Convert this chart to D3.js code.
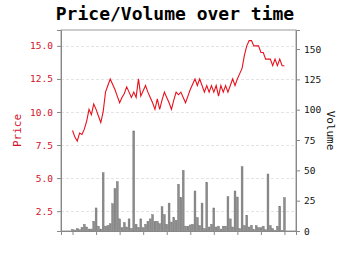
<!DOCTYPE html>
<html>
<head>
<meta charset="utf-8">
<script src="https://cdn.jsdelivr.net/npm/d3@7"></script>
<style>
  body { margin: 0; background: #fff; }
  svg { display: block; font-family: "DejaVu Sans Mono", monospace; }
</style>
</head>
<body>
<svg id="chart"></svg>
<script>
var price = [8.6, 8.1, 7.8, 8.4, 8.3, 8.7, 9.3, 10.2, 9.8, 10.6,
  10.2, 9.7, 9.2, 10.0, 11.5, 12.0, 12.5, 12.1, 11.7, 11.2,
  10.7, 11.1, 11.4, 11.9, 11.5, 11.1, 11.5, 11.1, 12.5, 11.2,
  11.6, 12.0, 11.5, 11.1, 10.7, 10.2, 11.0, 10.2, 10.9, 11.5,
  11.1, 10.7, 10.2, 10.9, 11.5, 11.3, 11.5, 11.1, 10.7, 11.2,
  11.7, 12.1, 12.5, 12.0, 12.5, 12.0, 11.5, 12.0, 11.5, 12.0,
  11.5, 12.0, 11.2, 12.0, 11.5, 12.0, 11.5, 12.0, 12.5, 12.0,
  12.5, 12.9, 13.3, 14.3, 15.0, 15.4, 15.4, 15.0, 15.0, 15.0,
  14.5, 14.5, 14.0, 14.0, 14.0, 13.5, 14.0, 13.5, 14.0, 13.5, 13.5];

var volume = [1.4, 0.8, 2, 1, 3, 5.5, 3.3, 1.6, 1.6, 8,
  19, 4, 1.6, 48, 4, 4.4, 6, 22.5, 35, 40.7,
  10, 2.7, 7, 3.3, 10, 2, 82.5, 5.5, 3, 10,
  2.7, 5.5, 8, 10, 13.5, 8, 8, 6, 20, 13.5,
  5.5, 23, 7.4, 11, 8.8, 38.5, 27.5, 50, 4, 4,
  5, 5.5, 33, 11, 4.4, 23, 2, 40, 3.3, 5.5,
  19, 3.3, 4, 1.6, 4, 4, 28.3, 10, 3.3, 33,
  28, 2, 53, 4.4, 13, 3.3, 4.7, 1, 4.4, 2.7,
  2.7, 4, 1, 47, 4.4, 2, 0.3, 4, 20.4, 0.5, 27.5];

var days = d3.range(price.length);
var dayTicks = [0, 10, 20, 30, 40, 50, 60, 70, 80, 90];
var priceTicks = [2.5, 5.0, 7.5, 10.0, 12.5, 15.0];
var volumeTicks = [0, 25, 50, 75, 100, 125, 150];

var margin = {top: 30, right: 54, bottom: 24, left: 61};
var width = 350 - margin.left - margin.right;
var height = 255 - margin.top - margin.bottom;

var x = d3.scaleLinear().domain([-4.9, 94.9]).range([0, width]);
var yPrice = d3.scaleLinear().domain([1.0, 16.2]).range([height, 0]);
var yVol = d3.scaleLinear().domain([0, 165.7]).range([height, 0]);

var svg = d3.select("#chart")
  .attr("width", 350)
  .attr("height", 255);

svg.append("text")
  .attr("x", 175)
  .attr("y", 20)
  .attr("text-anchor", "middle")
  .style("font-size", "18px")
  .style("font-weight", "bold")
  .text("Price/Volume over time");

var chart = svg.append("g")
  .attr("transform", "translate(" + margin.left + "," + margin.top + ")");

// grid on the price ticks
chart.selectAll(".grid")
  .data(priceTicks)
  .enter().append("line")
  .attr("class", "grid")
  .attr("x1", 0)
  .attr("x2", width)
  .attr("y1", function(d) { return Math.round(yPrice(d)) + 0.5; })
  .attr("y2", function(d) { return Math.round(yPrice(d)) + 0.5; })
  .style("stroke", "#ddd")
  .style("stroke-width", 0.8)
  .style("stroke-dasharray", "3,2");

chart.selectAll(".bar")
  .data(days)
  .enter().append("rect")
  .attr("class", "bar")
  .attr("x", function(d) { return x(d - 0.4); })
  .attr("width", x(0.8) - x(0))
  .attr("y", function(d) { return yVol(volume[d]); })
  .attr("height", function(d) { return height - yVol(volume[d]); })
  .style("fill", "#8c8c8c")
  .style("stroke", "#6e6e6e")
  .style("stroke-width", 0.4);

var line = d3.line()
  .x(function(d) { return x(d); })
  .y(function(d) { return yPrice(price[d]); });

chart.append("path")
  .datum(days)
  .attr("d", line)
  .style("fill", "none")
  .style("stroke", "#e8101c")
  .style("stroke-width", 1.1);

// frame
chart.append("rect")
  .attr("x", 0)
  .attr("y", 0)
  .attr("width", width)
  .attr("height", height)
  .style("fill", "none")
  .style("stroke", "#999")
  .style("stroke-width", 1);

var yAxisLeft = d3.axisLeft(yPrice).tickValues(priceTicks).tickFormat(d3.format(".1f")).tickSize(4).tickPadding(4);
var yAxisRight = d3.axisRight(yVol).tickValues(volumeTicks).tickSize(4).tickPadding(4);
var xAxis = d3.axisBottom(x).tickValues(dayTicks).tickFormat("").tickSize(4);

var gl = chart.append("g").call(yAxisLeft);
gl.select(".domain").style("stroke", "#888");
gl.selectAll(".tick line").style("stroke", "#888");
gl.selectAll(".tick text")
  .style("fill", "#d0102a")
  .style("font-size", "9.5px")
  .style("font-family", "DejaVu Sans Mono");

var gr = chart.append("g")
  .attr("transform", "translate(" + width + ",0)")
  .call(yAxisRight);
gr.select(".domain").style("stroke", "#888");
gr.selectAll(".tick line").style("stroke", "#888");
gr.selectAll(".tick text")
  .style("fill", "#111")
  .style("font-size", "9.5px")
  .style("font-family", "DejaVu Sans Mono");

var gx = chart.append("g")
  .attr("transform", "translate(0," + height + ")")
  .call(xAxis);
gx.select(".domain").style("stroke", "#888");
gx.selectAll(".tick line").style("stroke", "#888");

svg.append("text")
  .attr("transform", "translate(21," + (margin.top + height / 2) + ") rotate(-90)")
  .attr("text-anchor", "middle")
  .style("font-size", "11px")
  .style("fill", "#d0102a")
  .text("Price");

svg.append("text")
  .attr("transform", "translate(327," + (margin.top + height / 2) + ") rotate(90)")
  .attr("text-anchor", "middle")
  .style("font-size", "11px")
  .style("fill", "#111")
  .text("Volume");
</script>
</body>
</html>
